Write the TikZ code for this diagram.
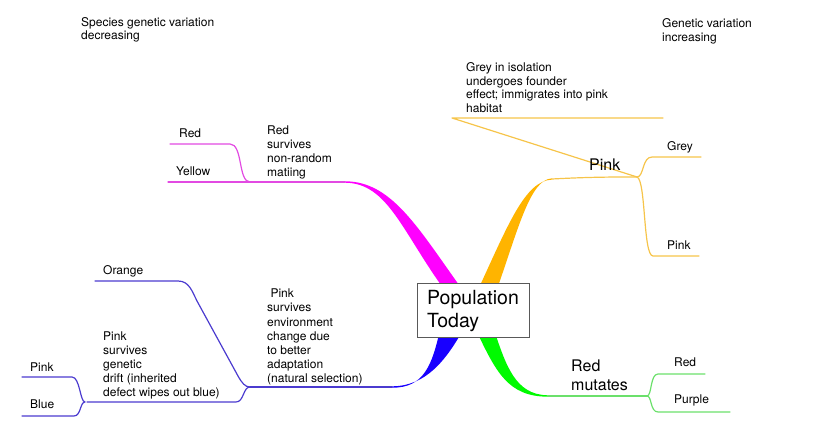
\documentclass[tikz,border=0pt]{standalone}
\usepackage{fontspec}
\setmainfont{TeX Gyre Heros}
\definecolor{mag}{HTML}{FF00FF}
\definecolor{magthin}{HTML}{E24AE2}
\definecolor{org}{HTML}{FFB400}
\definecolor{orgthin}{HTML}{F6C44A}
\definecolor{blu}{HTML}{1800FF}
\definecolor{bluthin}{HTML}{4B3BCF}
\definecolor{grn}{HTML}{00FA00}
\definecolor{grnthin}{HTML}{6BE06B}
\begin{document}
\begin{tikzpicture}[x=1pt,y=-1pt,
  lbl/.style={inner sep=0pt, anchor=base west, align=left, font=\fontsize{12}{14.2}\selectfont},
  biglbl/.style={inner sep=0pt, anchor=base west, align=left, font=\fontsize{16}{19}\selectfont},
  twig/.style={line width=1.2pt, line cap=round, line join=round},
  centerbox/.style={draw=black!65, line width=0.9pt, fill=white, minimum width=112pt, minimum height=54pt, inner sep=0pt}]
\useasboundingbox (0,0) rectangle (817,443);

% ---- coordinates ----
\coordinate (J1) at (250,182);
\coordinate (M) at (345,182);
\coordinate (J2) at (637,177);
\coordinate (O) at (552,179);
\coordinate (J3) at (250,387);
\coordinate (B) at (392,387);
\coordinate (J4) at (85,402);
\coordinate (J5) at (647,396);
\coordinate (G) at (548,396);

% ---- thick tapered branches ----
\fill[mag] (345,182.7) .. controls (388,183) and (402,232) .. (446,292)
  -- (464,292) .. controls (418,228) and (392,181.3) .. (345,181.3) -- cycle;
\fill[org] (477,292) .. controls (508,225) and (525,180.6) .. (552,179.6)
  -- (552,178.4) .. controls (530,179) and (518,230) .. (496,292) -- cycle;
\fill[blu] (392,387.7) .. controls (424,388) and (432,365) .. (440,330)
  -- (463,330) .. controls (446,360) and (426,386.3) .. (392,386.3) -- cycle;
\fill[grn] (476,330) .. controls (496,372) and (508,396.7) .. (548,396.7)
  -- (548,395.3) .. controls (515,395) and (506,365) .. (494,330) -- cycle;

% ---- magenta twigs ----
\coordinate (redA) at (170,144);
\coordinate (yelA) at (168,182);
\draw[twig,magthin] (M) -- (J1) -- (yelA);
\draw[twig,magthin] (redA) -- (230,144) .. controls (243,144) and (238,182) .. (J1);

% ---- orange twigs ----
\coordinate (gA) at (701,157);
\coordinate (pA) at (699,256);
\coordinate (fA) at (452,118);
\coordinate (fB) at (663,118);
\draw[twig,orgthin] (O) .. controls (590,177) and (610,177) .. (J2);
\draw[twig,orgthin] (J2) .. controls (644,177) and (642,157) .. (652,157) -- (gA);
\draw[twig,orgthin] (J2) .. controls (646,180) and (643,256) .. (653,256) -- (pA);
\draw[twig,orgthin] (J2) -- (fA) -- (fB);

% ---- blue twigs ----
\coordinate (orA) at (95,281);
\coordinate (dfA) at (87,402);
\coordinate (pkA) at (22,377);
\coordinate (blA) at (22,416);
\draw[twig,bluthin] (B) -- (J3);
\draw[twig,bluthin] (J3) .. controls (245,387) and (242,383) .. (238,376) -- (197,301)
  .. controls (192,291) and (189,281) .. (178,281) -- (orA);
\draw[twig,bluthin] (J3) .. controls (243,387) and (244,402) .. (236,402) -- (dfA);
\draw[twig,bluthin] (J4) .. controls (80,402) and (80,377) .. (72,377) -- (pkA);
\draw[twig,bluthin] (J4) .. controls (80,402) and (81,416) .. (74,416) -- (blA);

% ---- green twigs ----
\coordinate (rdA) at (705,374);
\coordinate (puA) at (730,412);
\draw[twig,grnthin] (G) -- (J5);
\draw[twig,grnthin] (J5) .. controls (652,396) and (650,374) .. (658,374) -- (rdA);
\draw[twig,grnthin] (J5) .. controls (652,396) and (650,412) .. (658,412) -- (puA);

% ---- centre ----
\node[centerbox] (center) at (473,310) {};
\node[inner sep=0pt, anchor=base west, align=left, font=\fontsize{19.5}{23}\selectfont] (centerText) at (427,328) {Population\\Today};

% ---- labels (anchor = baseline of last line) ----
\node[lbl, font=\fontsize{12}{13}\selectfont] (specDec) at (81,40) {Species genetic variation\\decreasing};
\node[lbl, font=\fontsize{12}{13.5}\selectfont] (genInc) at (662,41.5) {Genetic variation\\increasing};
\node[lbl, font=\fontsize{12}{13.5}\selectfont] (founder) at (466,112.5) {Grey in isolation\\undergoes founder\\effect; immigrates into pink\\habitat};
\node[lbl] (redSurv) at (267,177) {Red\\survives\\non-random\\matiing};
\node[lbl] (redL) at (179,138) {Red};
\node[lbl] (yelL) at (176,176) {Yellow};
\node[biglbl] (pinkBig) at (589,171) {Pink};
\node[lbl] (greyL) at (667,151) {Grey};
\node[lbl] (pinkR) at (667,250) {Pink};
\node[lbl] (orangeL) at (103,275) {Orange};
\node[lbl] (natSel) at (267,383) {\ Pink\\survives\\environment\\change due\\to better\\adaptation\\(natural selection)};
\node[lbl, font=\fontsize{12}{14}\selectfont] (drift) at (103,397) {Pink\\survives\\genetic\\drift (inherited\\defect wipes out blue)};
\node[lbl] (pinkL) at (30,372) {Pink};
\node[lbl] (blueL) at (30,409) {Blue};
\node[biglbl] (mutates) at (571,391) {Red\\mutates};
\node[lbl] (redG) at (674,367) {Red};
\node[lbl] (purpleG) at (674,404) {Purple};
\end{tikzpicture}
\end{document}
